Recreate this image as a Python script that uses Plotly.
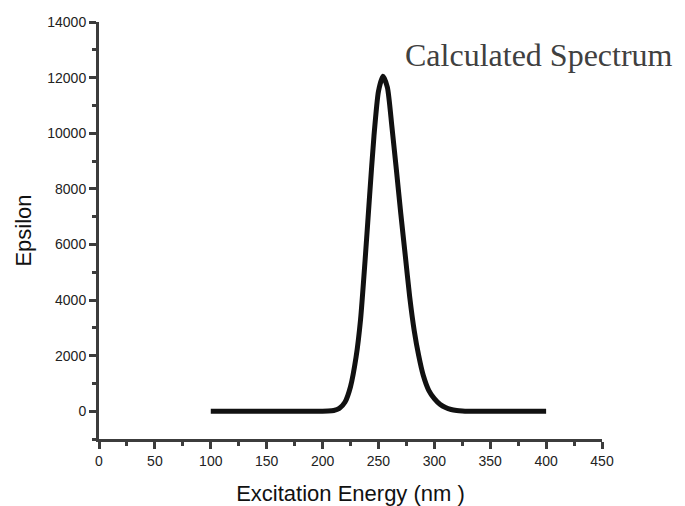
import plotly.graph_objects as go

# Data
wavelength_nm = [100, 150, 200, 205, 210, 215, 220, 225, 230, 234, 238, 242, 246, 250,
                 254, 258, 262, 266, 270, 274, 278, 282, 286, 290, 295, 300, 305,
                 310, 315, 320, 325, 330, 350, 400]
epsilon = [0, 0, 0, 5, 25, 100, 320, 880, 1950, 3300, 5400, 7700, 9900, 11500,
           12050, 11650, 10250, 8700, 7100, 5600, 4100, 2900, 2000, 1300, 750, 450, 250,
           130, 60, 25, 8, 0, 0, 0]

x_ticks = [0, 50, 100, 150, 200, 250, 300, 350, 400, 450]
y_ticks = [0, 2000, 4000, 6000, 8000, 10000, 12000, 14000]

AX = "#3c3c3c"
SANS = "Liberation Sans, Arial, sans-serif"

fig = go.Figure()
fig.add_trace(go.Scatter(
    x=wavelength_nm, y=epsilon, mode="lines",
    line=dict(color="#111111", width=5, shape="spline", smoothing=0.6),
    hoverinfo="skip", showlegend=False,
))

axis_common = dict(
    showline=True, linewidth=3, linecolor=AX,
    ticks="outside", ticklen=7, tickwidth=3, tickcolor=AX,
    showgrid=False, zeroline=False,
    tickfont=dict(family=SANS, size=14, color="#222222"),
)

fig.update_xaxes(
    range=[0, 450], tickvals=x_ticks, ticktext=[str(v) for v in x_ticks],
    minor=dict(ticks="outside", ticklen=4, tickwidth=3, tickcolor=AX, dtick=25, tick0=0, showgrid=False),
    title=dict(text="Excitation Energy (nm )", font=dict(family=SANS, size=22, color="#111111"), standoff=21),
    **axis_common,
)
fig.update_yaxes(
    range=[-1000, 14000], tickvals=y_ticks, ticktext=[str(v) for v in y_ticks],
    minor=dict(ticks="outside", ticklen=4, tickwidth=3, tickcolor=AX, dtick=1000, tick0=-1000, showgrid=False),
    title=dict(text="Epsilon", font=dict(family=SANS, size=22, color="#111111"), standoff=10),
    **axis_common,
)

fig.add_annotation(
    text="Calculated Spectrum", xref="paper", yref="paper",
    x=0.604, y=0.92, xanchor="left", yanchor="middle", showarrow=False,
    font=dict(family="Liberation Serif, Times New Roman, serif", size=32, color="#404040"),
)

# The page body has a default 8px margin, so the figure is sized to fit the window.
fig.update_layout(
    width=677, height=498,
    margin=dict(l=91, r=83, t=14, b=67, autoexpand=False),
    paper_bgcolor="white", plot_bgcolor="white",
)

fig.write_html("out.html")
